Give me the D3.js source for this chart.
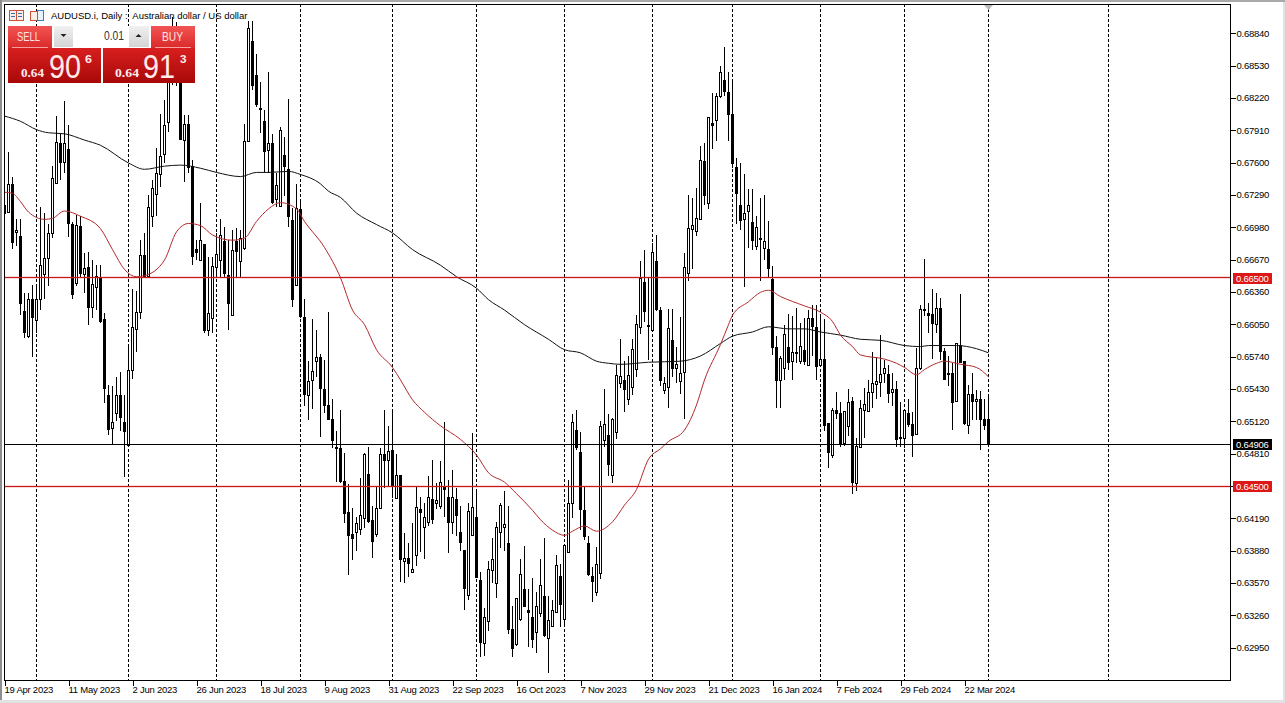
<!DOCTYPE html>
<html><head><meta charset="utf-8">
<script src="https://cdn.jsdelivr.net/npm/d3@7"></script>
<style>
html,body{margin:0;padding:0;background:#fff;overflow:hidden}
svg{display:block}
text{font-family:"Liberation Sans",Arial,sans-serif}
</style></head><body><svg id="c" width="1285" height="703"></svg>
<script>
// Prices are in pips (price x 10000)
const opens=[6720,6713,6740,6694,6690,6618,6595,6630,6610,6629,
6654,6669,6693,6741,6779,6761,6773,6702,6645,6700,
6653,6660,6622,6641,6650,6610,6538,6506,6521,6538,
6512,6490,6562,6601,6617,6672,6652,6709,6730,6750,
6768,6800,6840,6880,6860,6782,6797,6757,6678,6667,
6682,6600,6611,6661,6667,6685,6653,6615,6685,6666,
6678,6781,6877,6844,6813,6800,6772,6779,6726,6719,
6768,6754,6705,6643,6716,6612,6538,6552,6570,6574,
6543,6528,6515,6488,6487,6455,6425,6404,6406,6410,
6420,6462,6418,6404,6429,6481,6475,6485,6439,6461,
6378,6381,6368,6384,6428,6411,6416,6438,6434,6431,
6450,6440,6416,6438,6406,6389,6345,6403,6421,6360,
6300,6321,6369,6357,6406,6411,6396,6313,6299,6323,
6352,6331,6325,6310,6328,6345,6305,6316,6330,6364,
6323,6387,6434,6504,6483,6427,6396,6364,6349,6367,
6495,6499,6461,6502,6549,6552,6534,6546,6563,6603,
6646,6605,6600,6666,6619,6542,6545,6590,6563,6551,
6559,6655,6697,6695,6706,6762,6722,6798,6801,6824,
6840,6828,6807,6756,6720,6706,6714,6703,6681,6688,
6678,6678,6649,6584,6552,6563,6584,6570,6579,6571,
6581,6566,6611,6603,6566,6572,6511,6480,6523,6520,
6491,6508,6532,6454,6488,6523,6522,6540,6548,6550,
6558,6558,6540,6543,6496,6496,6520,6510,6500,6563,
6620,6616,6615,6606,6621,6580,6558,6559,6531,6586,
6570,6509,6539,6532,6534,6515,6515];
const closes=[6712,6740,6684,6696,6626,6598,6630,6613,6630,6662,
6669,6693,6746,6780,6761,6779,6702,6635,6701,6655,
6659,6622,6644,6652,6609,6544,6505,6512,6538,6517,
6503,6562,6603,6617,6672,6652,6718,6736,6750,6767,
6796,6840,6870,6850,6783,6797,6756,6671,6675,6686,
6600,6616,6661,6673,6691,6654,6626,6677,6675,6688,
6781,6889,6835,6816,6812,6771,6779,6722,6739,6792,
6757,6709,6629,6717,6613,6538,6551,6561,6574,6544,
6528,6515,6495,6487,6455,6424,6403,6400,6415,6423,
6481,6417,6398,6429,6481,6475,6484,6451,6461,6380,
6381,6376,6371,6430,6425,6421,6440,6419,6437,6454,
6447,6416,6440,6423,6396,6353,6426,6430,6363,6301,
6325,6371,6380,6411,6432,6414,6314,6295,6343,6366,
6336,6329,6304,6335,6355,6308,6322,6331,6375,6337,
6394,6434,6512,6488,6428,6402,6366,6359,6376,6508,
6510,6471,6515,6557,6556,6543,6557,6582,6606,6650,
6618,6604,6675,6620,6552,6549,6602,6563,6567,6559,
6660,6698,6701,6707,6763,6729,6804,6796,6824,6847,
6829,6807,6760,6731,6706,6712,6720,6686,6699,6687,
6685,6660,6584,6552,6573,6596,6570,6579,6578,6585,
6570,6611,6603,6566,6572,6509,6483,6523,6520,6491,
6522,6531,6454,6489,6525,6529,6540,6549,6551,6558,
6563,6540,6543,6495,6497,6523,6509,6499,6563,6620,
6619,6614,6606,6621,6580,6553,6559,6531,6587,6570,
6511,6539,6532,6534,6515,6509,6491];
const highs=[6725,6771,6747,6706,6706,6635,6635,6643,6642,6718,
6712,6702,6757,6805,6789,6819,6796,6703,6710,6709,
6674,6675,6667,6662,6662,6616,6547,6546,6555,6560,
6538,6585,6639,6637,6686,6693,6729,6744,6774,6807,
6820,6860,6900,6895,6885,6806,6806,6763,6686,6722,
6682,6670,6670,6693,6706,6699,6686,6696,6698,6696,
6797,6896,6896,6865,6838,6811,6847,6788,6750,6795,
6785,6821,6717,6740,6723,6630,6570,6610,6600,6577,
6571,6617,6534,6503,6523,6482,6452,6429,6421,6458,
6482,6488,6431,6450,6487,6523,6508,6523,6481,6461,
6405,6396,6415,6450,6440,6434,6460,6475,6453,6474,
6512,6456,6466,6448,6431,6389,6434,6501,6447,6368,
6333,6378,6400,6416,6434,6446,6431,6335,6343,6380,
6393,6352,6362,6349,6380,6400,6345,6341,6384,6376,
6394,6456,6519,6523,6502,6450,6402,6373,6392,6513,
6543,6519,6516,6566,6591,6570,6575,6591,6614,6666,
6677,6650,6683,6691,6622,6555,6620,6620,6584,6612,
6674,6729,6726,6736,6776,6779,6804,6827,6827,6853,
6871,6847,6840,6765,6760,6749,6735,6735,6709,6726,
6729,6704,6661,6594,6575,6605,6615,6613,6621,6607,
6611,6619,6624,6624,6613,6610,6511,6525,6540,6531,
6522,6543,6536,6496,6533,6544,6552,6579,6574,6595,
6571,6566,6559,6551,6531,6523,6534,6521,6583,6624,
6668,6626,6639,6635,6631,6583,6575,6568,6587,6634,
6570,6547,6559,6542,6541,6534,6538];
const lows=[6709,6712,6678,6680,6614,6592,6592,6574,6597,6619,
6630,6642,6688,6741,6744,6750,6689,6630,6642,6651,
6635,6605,6611,6619,6607,6530,6499,6491,6513,6503,
6459,6489,6553,6579,6610,6652,6651,6699,6709,6737,
6760,6790,6835,6834,6783,6742,6750,6662,6667,6666,
6597,6594,6597,6651,6651,6651,6600,6613,6651,6651,
6677,6780,6830,6814,6789,6750,6750,6721,6718,6718,
6728,6699,6622,6642,6611,6527,6514,6524,6555,6497,
6520,6514,6487,6454,6453,6415,6365,6379,6388,6403,
6410,6415,6381,6401,6428,6448,6450,6439,6439,6358,
6357,6363,6367,6374,6387,6380,6412,6414,6428,6428,
6421,6386,6404,6402,6388,6331,6341,6402,6362,6286,
6287,6311,6357,6343,6391,6388,6308,6286,6297,6321,
6335,6296,6295,6290,6325,6306,6271,6316,6329,6315,
6318,6386,6420,6485,6408,6399,6364,6339,6345,6361,
6488,6460,6453,6495,6544,6521,6528,6538,6555,6596,
6608,6571,6598,6618,6546,6539,6525,6555,6549,6539,
6515,6647,6658,6690,6705,6720,6716,6773,6781,6822,
6824,6781,6755,6702,6696,6641,6679,6677,6677,6647,
6667,6651,6576,6525,6525,6552,6562,6552,6568,6567,
6566,6566,6575,6552,6565,6503,6468,6477,6515,6488,
6489,6498,6443,6446,6488,6496,6521,6525,6534,6536,
6549,6530,6527,6488,6488,6487,6507,6478,6499,6562,
6613,6597,6572,6597,6571,6552,6546,6504,6531,6568,
6509,6500,6514,6514,6485,6504,6491];
// Moving averages, read at bar indexes
const ma200Bars=[0,4,8,11,15,20,24,31,35,40,44,49,53,59,63,66,71,74,79,81,84,88,93,97,102,109,113,118,121,125,130,136,140,144,148,151,154,161,169,174,179,182,187,191,196,200,204,209,214,219,225,229,231,238,243,246];
const ma200Values=[6805,6800,6792,6789,6788,6782,6777,6760,6754,6757,6758,6755,6751,6747,6751,6751,6752,6749,6740,6733,6727,6712,6701,6693,6677,6662,6651,6640,6629,6619,6605,6591,6581,6578,6570,6568,6567,6569,6570,6575,6587,6594,6598,6603,6601,6601,6598,6595,6591,6590,6585,6584,6585,6585,6582,6578];
const ma50Bars=[0,2,4,6,10,12,15,19,24,27,30,33,35,40,43,46,49,52,57,60,63,66,69,73,75,80,84,87,90,93,97,99,102,105,109,114,118,121,125,128,132,134,137,140,142,145,148,152,155,158,161,164,166,170,173,175,179,181,182,186,189,191,194,200,204,207,209,212,214,220,223,225,228,230,233,235,239,243,246];
const ma50Values=[6732,6731,6723,6713,6706,6707,6714,6709,6697,6677,6658,6651,6652,6667,6694,6702,6700,6691,6686,6688,6704,6716,6722,6716,6704,6679,6650,6619,6605,6581,6564,6552,6533,6521,6508,6495,6480,6463,6454,6443,6427,6418,6408,6403,6407,6412,6407,6416,6432,6447,6476,6486,6493,6504,6528,6552,6586,6605,6614,6627,6636,6638,6632,6623,6617,6608,6595,6584,6576,6572,6568,6564,6557,6562,6568,6570,6567,6564,6555];
const separatorBars=[8,31,53,74,97,118,140,162,182,204,225,246,276];
const dateBars=[0,16,32,48,64,80,96,112,128,144,160,176,192,208,224,240];
const dateLabels=["19 Apr 2023","11 May 2023","2 Jun 2023","26 Jun 2023","18 Jul 2023","9 Aug 2023","31 Aug 2023","22 Sep 2023","16 Oct 2023","7 Nov 2023","29 Nov 2023","21 Dec 2023","16 Jan 2024","7 Feb 2024","29 Feb 2024","22 Mar 2024"];
const priceTicks=[0.6884,0.6853,0.6822,0.6791,0.6760,0.6729,0.6698,0.6667,0.6636,0.6605,0.6574,0.6543,0.6512,0.6481,0.6450,0.6419,0.6388,0.6357,0.6326,0.6295];
const levels=[0.6650,0.6450];
const lastPrice=0.64906;
const title="AUDUSD.i, Daily :  Australian dollar / US dollar";

const L=4,R=1230,T=4,B=680;
const svg=d3.select("#c");
const x=d3.scaleLinear().domain([0,246]).range([4.5,988.5]);
const y=d3.scaleLinear().domain([0.6884,0.6295]).range([33.7,648]);
const py=p=>y(p/1e4);
const sn=v=>Math.round(v)+0.5;

// window chrome
svg.append("rect").attr("width",1285).attr("height",703).attr("fill","#fff");
svg.append("rect").attr("x",0).attr("y",0).attr("width",1285).attr("height",2).attr("fill","#a9a9a9");
svg.append("rect").attr("x",0).attr("y",0).attr("width",2).attr("height",703).attr("fill","#8e8e8e");
svg.append("rect").attr("x",1283).attr("y",2).attr("width",2).attr("height",701).attr("fill","#e2e2e2");
svg.append("rect").attr("x",0).attr("y",700).attr("width",1285).attr("height",3).attr("fill","#e2e2e2");

const defs=svg.append("defs");
defs.append("clipPath").attr("id","plot").append("rect").attr("x",L).attr("y",T).attr("width",R-L).attr("height",B-T);
function grad(id,a,b){const g=defs.append("linearGradient").attr("id",id).attr("x1",0).attr("y1",0).attr("x2",0).attr("y2",1);
 g.append("stop").attr("offset","0%").attr("stop-color",a);g.append("stop").attr("offset","100%").attr("stop-color",b);}
grad("gBtn","#f45454","#d92a2a");
grad("gPrice","#d81f1f","#a80808");
grad("gStep","#f0f0f0","#d4d4d4");

const plot=svg.append("g").attr("clip-path","url(#plot)");
// period separators
plot.selectAll("line.sep").data(separatorBars).join("line").attr("class","sep")
 .attr("x1",d=>sn(x(d)-0.5)).attr("x2",d=>sn(x(d)-0.5)).attr("y1",T).attr("y2",B)
 .attr("stroke","#000").attr("stroke-width",1).attr("stroke-dasharray","3 2").attr("shape-rendering","crispEdges");

// candles
const bars=d3.range(opens.length);
plot.selectAll("line.wick").data(bars).join("line").attr("class","wick")
 .attr("x1",i=>x(i)).attr("x2",i=>x(i))
 .attr("y1",i=>Math.round(py(highs[i]))).attr("y2",i=>Math.round(py(lows[i])))
 .attr("stroke","#000").attr("shape-rendering","crispEdges");
plot.selectAll("rect.body").data(bars).join("rect").attr("class","body")
 .attr("x",i=>x(i)-1).attr("width",2)
 .attr("y",i=>sn(py(Math.max(opens[i],closes[i]))))
 .attr("height",i=>Math.max(1,Math.round(py(Math.min(opens[i],closes[i]))-py(Math.max(opens[i],closes[i])))))
 .attr("fill",i=>closes[i]>=opens[i]?"#fff":"#000")
 .attr("stroke","#000").attr("stroke-width",1).attr("shape-rendering","crispEdges");

// moving averages
const maLine=d3.line().x(d=>x(d[0])).y(d=>py(d[1])).curve(d3.curveMonotoneX);
plot.append("path").attr("d",maLine(ma200Bars.map((b,k)=>[b,ma200Values[k]]))).attr("fill","none").attr("stroke","#111").attr("stroke-width",1);
plot.append("path").attr("d",maLine(ma50Bars.map((b,k)=>[b,ma50Values[k]]))).attr("fill","none").attr("stroke","#b3282a").attr("stroke-width",1);

// horizontal levels
plot.selectAll("line.halo").data(levels).join("line").attr("class","halo")
 .attr("x1",L).attr("x2",R).attr("y1",d=>sn(y(d)-0.5)).attr("y2",d=>sn(y(d)-0.5))
 .attr("stroke","#e04040").attr("stroke-opacity",0.2).attr("stroke-width",3).attr("shape-rendering","crispEdges");
plot.selectAll("line.level").data(levels).join("line").attr("class","level")
 .attr("x1",L).attr("x2",R).attr("y1",d=>sn(y(d)-0.5)).attr("y2",d=>sn(y(d)-0.5))
 .attr("stroke","#c41a1a").attr("shape-rendering","crispEdges");
plot.append("line").attr("x1",L).attr("x2",R).attr("y1",sn(y(lastPrice))).attr("y2",sn(y(lastPrice)))
 .attr("stroke","#000").attr("shape-rendering","crispEdges");

// frame
svg.append("rect").attr("x",L+0.5).attr("y",T+0.5).attr("width",R-L).attr("height",B-T).attr("fill","none").attr("stroke","#000").attr("shape-rendering","crispEdges");

// shift marker
svg.append("path").attr("d",d3.line()([[984,5],[993,5],[988.5,10]])+"Z").attr("fill","#b8b8b8");

// price axis
const yAxis=d3.axisRight(y).tickValues(priceTicks).tickFormat(d3.format(".5f")).tickSize(5).tickPadding(1);
const ga=svg.append("g").attr("transform",`translate(${R+0.5},-0.5)`).call(yAxis);
ga.select(".domain").remove();
ga.selectAll("text").attr("font-size",9.5).attr("letter-spacing",-0.25).attr("fill","#000").style("font-family",'"Liberation Sans"');
ga.selectAll("line").attr("stroke","#000").attr("shape-rendering","crispEdges");

// date axis
const xAxis=d3.axisBottom(x).tickValues(dateBars).tickFormat((d,i)=>dateLabels[i]).tickSize(5).tickPadding(0);
const gx=svg.append("g").attr("transform",`translate(0,${B+0.5})`).call(xAxis);
gx.select(".domain").remove();
gx.selectAll("text").attr("font-size",9.5).attr("letter-spacing",-0.25).attr("text-anchor","start").attr("fill","#000").attr("dx",-0.5).attr("dy","0.8em");
gx.selectAll("line").attr("stroke","#000").attr("shape-rendering","crispEdges");

// price tags
function tag(p,col){
 const c=y(p);
 svg.append("rect").attr("x",1233).attr("y",Math.round(c)-5).attr("width",39).attr("height",11).attr("fill",col);
 svg.append("text").attr("x",1236).attr("y",Math.round(c)+3.5).attr("font-size",9.5).attr("letter-spacing",-0.25).attr("fill","#fff").text(p.toFixed(5));
}
levels.forEach(d=>tag(d,"#dd1616"));
tag(lastPrice,"#000");

// title and icons
svg.append("text").attr("x",51).attr("y",18.5).attr("font-size",9.5).attr("fill","#000").attr("xml:space","preserve").style("white-space","pre").text(title);
const ic=svg.append("g").attr("fill","none").attr("shape-rendering","crispEdges");
ic.append("rect").attr("x",9.5).attr("y",10.5).attr("width",14).attr("height",10).attr("stroke","#c8523a").attr("fill","#fbeee8");
ic.append("line").attr("x1",16.5).attr("x2",16.5).attr("y1",10).attr("y2",21).attr("stroke","#c8523a");
[13.5,16.5].forEach(v=>{ic.append("line").attr("x1",11).attr("x2",15).attr("y1",v).attr("y2",v).attr("stroke","#3a6ea8");ic.append("line").attr("x1",18).attr("x2",22).attr("y1",v).attr("y2",v).attr("stroke","#3a6ea8");});
ic.append("rect").attr("x",30.5).attr("y",11.5).attr("width",7).attr("height",9).attr("stroke","#c8523a").attr("fill","#fbeee8");
ic.append("rect").attr("x",37.5).attr("y",10.5).attr("width",6).attr("height",10).attr("stroke","#3a80b8").attr("fill","#e8f2fa");

// trade panel
const panel=svg.append("g");
panel.append("rect").attr("x",8).attr("y",26).attr("width",44).attr("height",22).attr("fill","url(#gBtn)");
panel.append("rect").attr("x",151).attr("y",26).attr("width",44).attr("height",22).attr("fill","url(#gBtn)");
panel.append("rect").attr("x",8).attr("y",48).attr("width",93).attr("height",35).attr("fill","url(#gPrice)");
panel.append("rect").attr("x",103).attr("y",48).attr("width",92).attr("height",35).attr("fill","url(#gPrice)");
panel.append("line").attr("x1",12).attr("x2",48).attr("y1",47.5).attr("y2",47.5).attr("stroke","#f7a0a0");
panel.append("line").attr("x1",155).attr("x2",191).attr("y1",47.5).attr("y2",47.5).attr("stroke","#f7a0a0");
panel.append("rect").attr("x",54).attr("y",26).attr("width",95).attr("height",21).attr("fill","#fff");
panel.append("rect").attr("x",54).attr("y",26).attr("width",19).attr("height",21).attr("fill","url(#gStep)");
panel.append("rect").attr("x",129).attr("y",26).attr("width",20).attr("height",21).attr("fill","url(#gStep)");
panel.append("path").attr("d","M60.5 34h6l-3 3z").attr("fill","#222");
panel.append("path").attr("d","M135.5 37h6l-3 -3z").attr("fill","#222");
function t(x0,y0,size,txt,len,weight,family,fill){
 const e=panel.append("text").attr("x",x0).attr("y",y0).attr("font-size",size).attr("fill",fill||"#fff")
 .attr("font-weight",weight||"normal").style("font-family",family||'"Liberation Sans"').text(txt);
 if(len) e.attr("textLength",len).attr("lengthAdjust","spacingAndGlyphs");
}
t(104,40,12,"0.01",20,null,null,"#333");
t(17,41,12.5,"SELL",23,null,null,"#ffe4e4");
t(162,41,12.5,"BUY",21,null,null,"#ffe4e4");
t(21,77,13,"0.64",23,"bold",'"Liberation Serif"',"#ffecec");
t(115,77,13,"0.64",24,"bold",'"Liberation Serif"',"#ffecec");
t(49,78,33,"90",32,null,null,"#ffe9e9");
t(143,78,33,"91",32,null,null,"#ffe9e9");
t(85,63,11.5,"6",7,"bold",null,"#ffecec");
t(180,63,11.5,"3",6.5,"bold",null,"#ffecec");
</script></body></html>
